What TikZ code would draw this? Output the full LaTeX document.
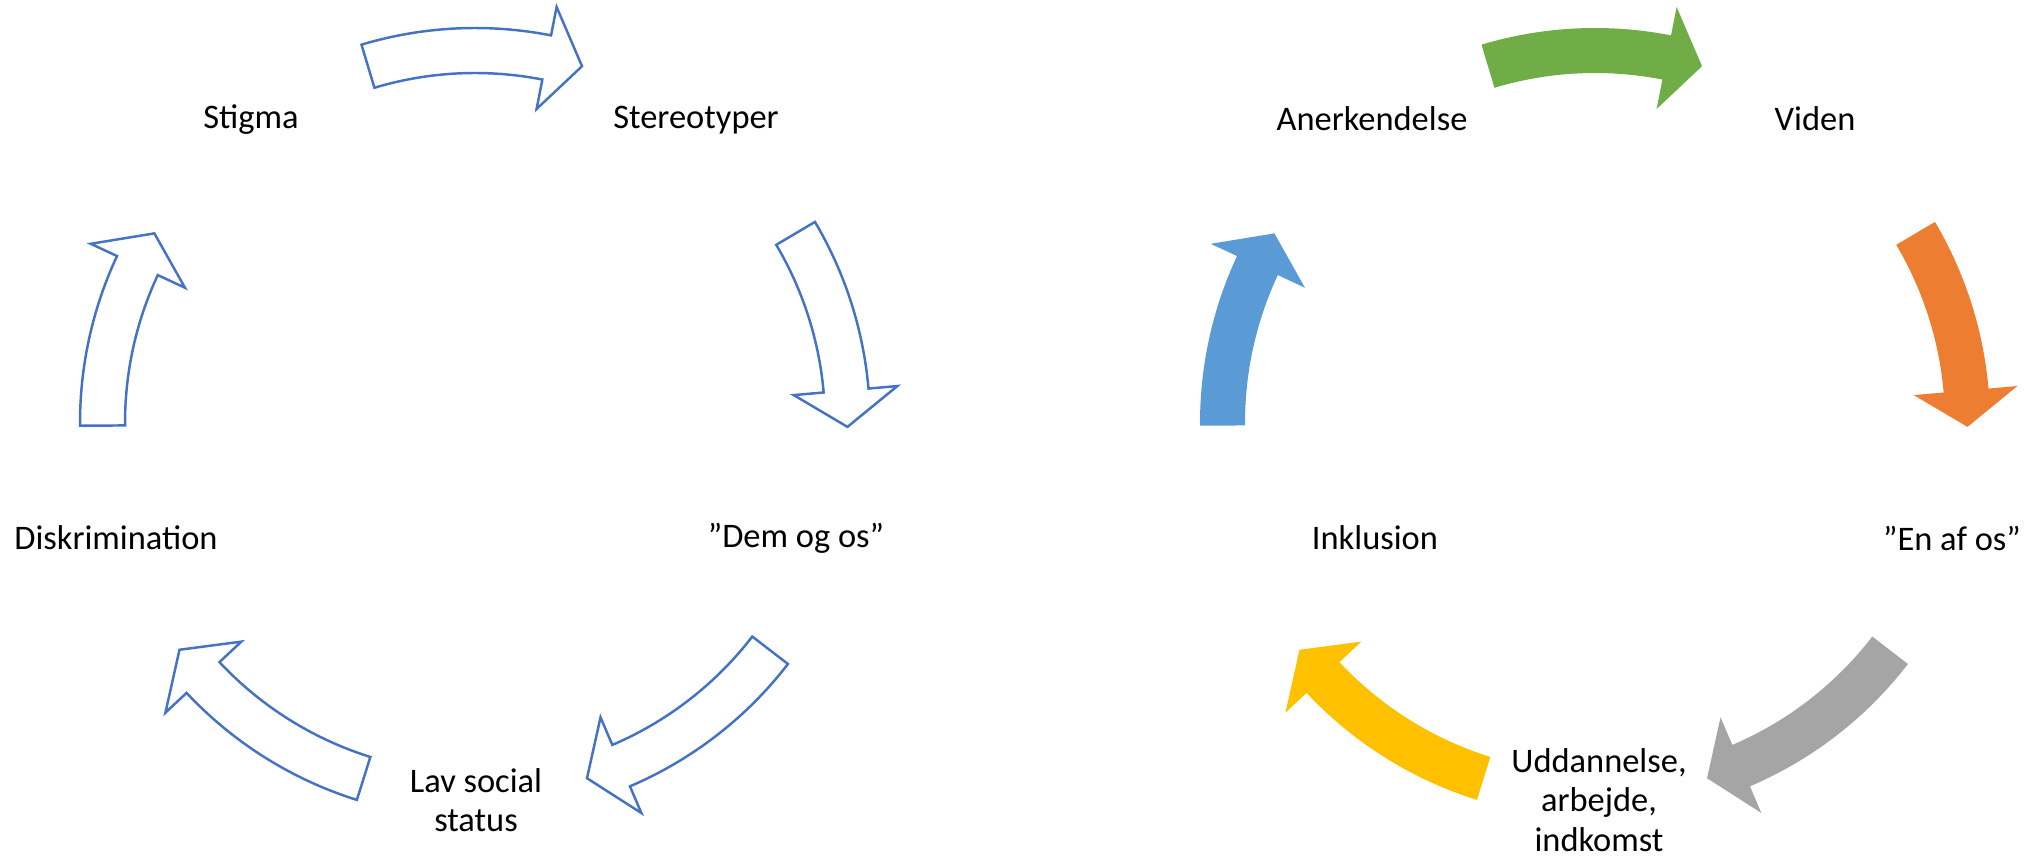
\documentclass[tikz,border=0pt]{standalone}
\usepackage{fontspec}
\setmainfont{Carlito}
\usetikzlibrary{calc}
\definecolor{lineblue}{HTML}{4472C4}
\definecolor{kgreen}{HTML}{70AD47}
\definecolor{korange}{HTML}{ED7D31}
\definecolor{kgray}{HTML}{A5A5A5}
\definecolor{kyellow}{HTML}{FFC000}
\definecolor{kblue}{HTML}{5B9BD5}
\tikzset{
  lbl/.style={font=\fontsize{19.6}{22.5}\selectfont, align=center, inner sep=0pt},
  hollow/.style={draw=lineblue, line width=1.4pt, fill=white, line join=miter},
  solid/.style={fill=#1, draw=none}
}
\begin{document}
\begin{tikzpicture}
  \def\Ro{7.9} % outer edge
  \def\Ri{7.0} % inner edge
  \def\Rm{7.45} % tip
  \def\Rho{8.48} % head, outer barb
  \def\Rhi{6.4} % head, inner barb
  \def\cyclearrow#1#2#3#4{%
    \pgfmathsetmacro\Hb{#3+5.6}
    \filldraw[#4] ($(#1)+(#2:\Ro)$) arc[start angle=#2, end angle=\Hb, radius=\Ro cm]
      -- ($(#1)+(\Hb:\Rho)$) -- ($(#1)+(#3:\Rm)$) -- ($(#1)+(\Hb:\Rhi)$)
      -- ($(#1)+(\Hb:\Ri)$) arc[start angle=\Hb, end angle=#2, radius=\Ri cm] -- cycle;
  }
  \useasboundingbox (0,0) rectangle (40.86,17.12);

  % centres of the two cycles
  \coordinate (L) at (9.50,8.66);
  \coordinate (R) at (31.90,8.66);

  % left cycle
  \node[lbl] (stigma) at (5.02,14.72) {Stigma};
  \node[lbl] (stereo) at (13.92,14.72) {Stereotyper};
  \node[lbl] (demos) at (15.92,6.36) {”Dem og os”};
  \node[lbl] (lavstatus) at (9.52,1.12) {Lav social\\status};
  \node[lbl] (diskrim) at (2.32,6.36) {Diskrimination};

  \cyclearrow{L}{106.7}{73.3}{hollow}
  \cyclearrow{L}{30.6}{-0.6}{hollow}
  \cyclearrow{L}{-37.6}{-72.5}{hollow}
  \cyclearrow{L}{-107.4}{-142.5}{hollow}
  \cyclearrow{L}{180.4}{149.4}{hollow}

  % right cycle
  \node[lbl] (anerk) at (27.44,14.74) {Anerkendelse};
  \node[lbl] (viden) at (36.30,14.74) {Viden};
  \node[lbl] (enafos) at (39.04,6.36) {”En af os”};
  \node[lbl] (uddan) at (31.98,1.12) {Uddannelse,\\arbejde,\\indkomst};
  \node[lbl] (inkl) at (27.50,6.36) {Inklusion};

  \cyclearrow{R}{106.7}{73.3}{solid=kgreen}
  \cyclearrow{R}{30.6}{-0.6}{solid=korange}
  \cyclearrow{R}{-37.6}{-72.5}{solid=kgray}
  \cyclearrow{R}{-107.4}{-142.5}{solid=kyellow}
  \cyclearrow{R}{180.4}{149.4}{solid=kblue}
\end{tikzpicture}
\end{document}
